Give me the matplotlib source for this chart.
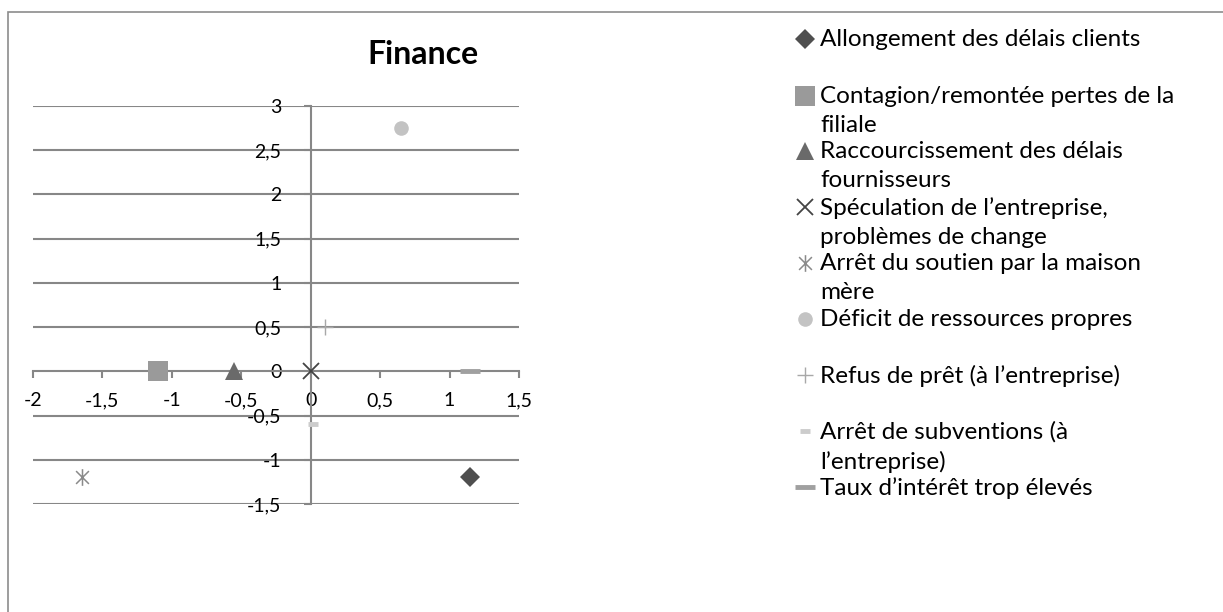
import matplotlib
matplotlib.use("Agg")
import matplotlib.pyplot as plt
from matplotlib.path import Path
from matplotlib.lines import Line2D
from matplotlib.ticker import FuncFormatter
from matplotlib.patches import Rectangle

plt.rcParams["font.family"] = ["Lato", "DejaVu Sans"]
plt.rcParams["axes.unicode_minus"] = False

# data
series = [
    "Allongement des délais clients",
    "Contagion/remontée pertes de la\nfiliale",
    "Raccourcissement des délais\nfournisseurs",
    "Spéculation de l’entreprise,\nproblèmes de change",
    "Arrêt du soutien par la maison\nmère",
    "Déficit de ressources propres",
    "Refus de prêt (à l’entreprise)",
    "Arrêt de subventions (à\nl’entreprise)",
    "Taux d’intérêt trop élevés",
]
x_vals = [1.15, -1.10, -0.55, 0.0, -1.65, 0.65, 0.10, 0.02, 1.15]
y_vals = [-1.2, 0.0, 0.0, 0.0, -1.2, 2.75, 0.5, -0.6, 0.0]

# asterisk marker: X plus vertical bar
star = Path([(-1, -1), (1, 1), (-1, 1), (1, -1), (0, -1.3), (0, 1.3)],
            [Path.MOVETO, Path.LINETO, Path.MOVETO, Path.LINETO, Path.MOVETO, Path.LINETO])

styles = [
    dict(marker="D", ms=10, color="#4f4f4f", mew=0),
    dict(marker="s", ms=14, color="#9a9a9a", mew=0),
    dict(marker="^", ms=13, color="#6a6a6a", mew=0),
    dict(marker="x", ms=11, color="#444444", mew=1.3),
    dict(marker=star, ms=12, color="#8a8a8a", mew=1.1),
    dict(marker="o", ms=10.5, color="#c3c3c3", mew=0),
    dict(marker="+", ms=11, color="#a8a8a8", mew=1.0),
    dict(marker="_", ms=7, color="#cccccc", mew=3.5),
    dict(marker="_", ms=14, color="#a0a0a0", mew=3.5),
]

W, H = 1223, 612
fig = plt.figure(figsize=(W / 100, H / 100), dpi=100)

# chart frame (extends past the image at right and bottom)
fig.add_artist(Rectangle((8 / W, -0.1), 1.2, 1 - 12 / H + 0.1, transform=fig.transFigure,
                         fill=False, edgecolor="#8c8c8c", lw=1.2))

ax = fig.add_axes([33 / W, (H - 504) / H, 486 / W, 398 / H])
ax.set_xlim(-2, 1.5)
ax.set_ylim(-1.5, 3)

grid_c = "#878787"
for yv in [-1.5, -1, -0.5, 0.5, 1, 1.5, 2, 2.5, 3]:
    ax.axhline(yv, color=grid_c, lw=1.5, zorder=1)

for s in ["top", "right"]:
    ax.spines[s].set_visible(False)
ax.spines["left"].set_position(("data", 0))
ax.spines["bottom"].set_position(("data", 0))
for s in ["left", "bottom"]:
    ax.spines[s].set_color(grid_c)
    ax.spines[s].set_linewidth(1.5)

fmt = FuncFormatter(lambda v, p: ("%g" % v).replace(".", ","))
ax.set_xticks([-2, -1.5, -1, -0.5, 0, 0.5, 1, 1.5])
ax.set_yticks([-1.5, -1, -0.5, 0, 0.5, 1, 1.5, 2, 2.5, 3])
ax.xaxis.set_major_formatter(fmt)
ax.yaxis.set_major_formatter(fmt)
ax.tick_params(axis="x", direction="out", length=5, width=1.5, color=grid_c, pad=10,
               labelsize=14)
ax.tick_params(axis="y", direction="out", length=5, width=1.5, color=grid_c, pad=16,
               labelsize=14)
ax.patch.set_alpha(0)

for xv, yv, st in zip(x_vals, y_vals, styles):
    ax.plot([xv], [yv], linestyle="none", zorder=5, clip_on=False,
            marker=st["marker"], ms=st["ms"], color=st["color"], mew=st["mew"])

fig.text(423 / W, 1 - 55 / H, "Finance", fontsize=23, fontweight="bold",
         ha="center", va="center")

# legend, drawn by hand to copy the uneven Excel spacing
leg_y = [39, 96, 151, 207, 263, 319, 375, 431, 487]
for lbl, yp, st in zip(series, leg_y, styles):
    fig.add_artist(Line2D([805 / W], [1 - yp / H], transform=fig.transFigure,
                          linestyle="none", marker=st["marker"], ms=st["ms"],
                          color=st["color"], mew=st["mew"]))
    fig.text(820 / W, 1 - (yp - 10) / H, lbl, fontsize=17.5, ha="left", va="top",
             linespacing=1.48)

fig.savefig("out.png", dpi=100)
